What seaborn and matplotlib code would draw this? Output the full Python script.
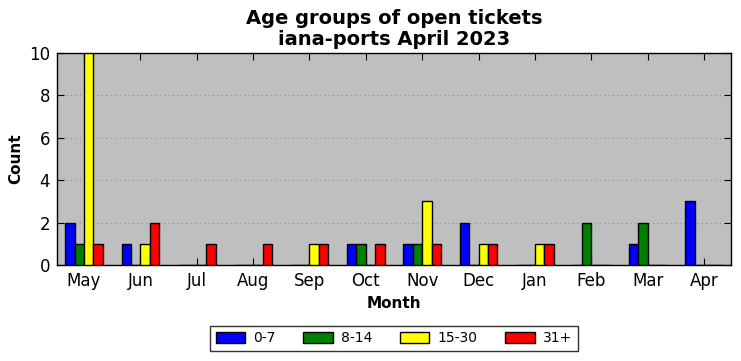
import matplotlib
matplotlib.use("Agg")
import matplotlib.pyplot as plt
import seaborn as sns
import pandas as pd
from matplotlib.patches import Patch

months = ["May", "Jun", "Jul", "Aug", "Sep", "Oct", "Nov", "Dec", "Jan", "Feb", "Mar", "Apr"]
groups = ["0-7", "8-14", "15-30", "31+"]
g_0_7 = [2, 1, 0, 0, 0, 1, 1, 2, 0, 0, 1, 3]
g_8_14 = [1, 0, 0, 0, 0, 1, 1, 0, 0, 2, 2, 0]
g_15_30 = [10, 1, 0, 0, 1, 0, 3, 1, 1, 0, 0, 0]
g_31p = [1, 2, 1, 1, 1, 1, 1, 1, 1, 0, 0, 0]
colors = ["#0000ff", "#008000", "#ffff00", "#ff0000"]

rows = []
for g, vals in zip(groups, [g_0_7, g_8_14, g_15_30, g_31p]):
    for m, v in zip(months, vals):
        rows.append({"Month": m, "Group": g, "Count": v})
df = pd.DataFrame(rows)

sns.set_style("ticks")
plt.rcParams["font.family"] = ["DejaVu Sans"]
plt.rcParams["text.color"] = "black"
plt.rcParams["axes.labelcolor"] = "black"
plt.rcParams["xtick.color"] = "black"
plt.rcParams["ytick.color"] = "black"

fig = plt.figure(figsize=(7.41, 3.61), dpi=100)
ax = fig.add_axes([57 / 741, 1 - 265 / 361, (731 - 57) / 741, (265 - 53) / 361])
ax.set_facecolor("#bfbfbf")

sns.barplot(data=df, x="Month", y="Count", hue="Group", order=months, hue_order=groups,
            palette=dict(zip(groups, colors)), saturation=1, edgecolor="black", linewidth=1,
            width=0.67, gap=0, ax=ax, legend=False, zorder=3)

ax.set_xlim(-0.48, 11.48)
ax.set_ylim(0, 10)
ax.set_yticks([0, 2, 4, 6, 8, 10])
ax.grid(axis="y", color="#8c8c8c", linestyle=(0, (1, 3)), linewidth=0.8, zorder=0)
ax.set_axisbelow(True)
for s in ax.spines.values():
    s.set_color("black")
    s.set_linewidth(1)
    s.set_visible(True)
ax.tick_params(direction="in", top=True, right=True, length=5, width=0.8, labelsize=12, pad=5,
               colors="black")

ax.set_xlabel("Month", fontsize=11, fontweight="bold", color="black")
ax.set_ylabel("Count", fontsize=11, fontweight="bold", color="black")
ax.set_title("Age groups of open tickets\niana-ports April 2023", fontsize=14, fontweight="bold",
             linespacing=1.1, pad=6, color="black")

handles = [Patch(facecolor=c, edgecolor="black", linewidth=1) for c in colors]
leg = ax.legend(handles, groups, ncol=4, loc="center", bbox_to_anchor=(0.5, -0.345),
                frameon=True, fancybox=False, edgecolor="black", fontsize=10,
                handlelength=2.1, handleheight=0.8, handletextpad=0.6, columnspacing=2.0,
                borderpad=0.4)
leg.get_frame().set_linewidth(1)
for t in leg.get_texts():
    t.set_color("black")

fig.savefig("out.png", dpi=100)
